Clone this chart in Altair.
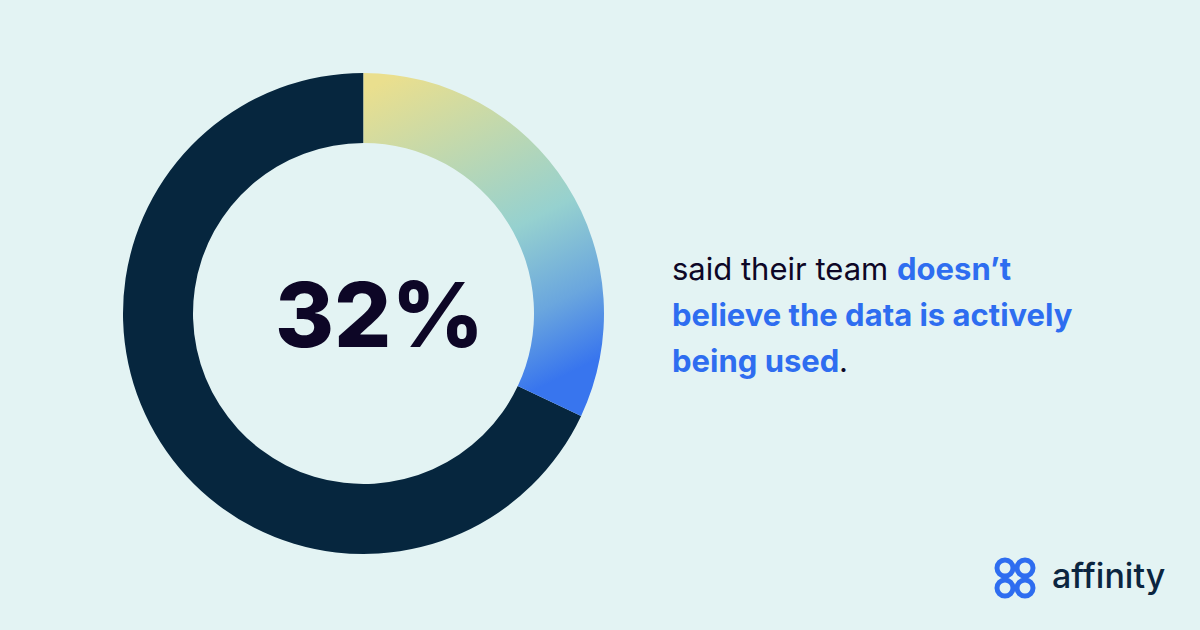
import altair as alt
import pandas as pd

# ---- data ----
segments = ["Doesn't believe data is actively used", "Other"]
shares = [32, 68]
headline = ["32%"]
line1_regular = ["said their team"]
line1_bold = ["doesn’t"]
line2_bold = ["believe the data is actively"]
line3_bold = ["being used"]
line3_end = ["."]
brand = ["affinity"]

df = pd.DataFrame({"segment": segments, "share": shares})
df["end"] = df["share"].cumsum()
df["start"] = df["end"] - df["share"]

W, H = 1200, 630
CX, CY = 363.5, 313.5
R_OUT, R_IN = 240.5, 170.5
BG = "#e3f3f3"
NAVY = "#06263e"
INK = "#0d0626"
BLUE = "#2e6df0"
FONT = "Inter"

theta_scale = alt.Scale(domain=[0, 100], range=[0, 6.283185307179586])

grad = alt.Gradient(
    gradient="linear",
    stops=[
        alt.GradientStop(color="#eadf8e", offset=0),
        alt.GradientStop(color="#96d1cf", offset=0.55),
        alt.GradientStop(color="#6aa6de", offset=0.8),
        alt.GradientStop(color="#3875ee", offset=1),
    ],
    x1=0.15, y1=0, x2=0.5, y2=1,
)

base = alt.Chart(df)
arc_enc = dict(
    theta=alt.Theta("start:Q", scale=theta_scale),
    theta2=alt.Theta2("end:Q"),
    x=alt.value(CX),
    y=alt.value(CY),
)
arc_grad = base.transform_filter(alt.datum.segment == segments[0]).mark_arc(
    color=grad, radius=R_OUT, radius2=R_IN
).encode(**arc_enc)
arc_dark = base.transform_filter(alt.datum.segment == segments[1]).mark_arc(
    color=NAVY, radius=R_OUT, radius2=R_IN
).encode(**arc_enc)


def txt(values, x, y, size, weight, color, align="left", font=FONT):
    return alt.Chart(pd.DataFrame({"t": values})).mark_text(
        font=font, fontSize=size, fontWeight=weight, color=color,
        align=align, baseline="alphabetic",
    ).encode(text="t:N", x=alt.value(x), y=alt.value(y))


big = txt(headline, 379.5, 347, 90, 800, INK, align="center")
l1a = txt(line1_regular, 672, 280, 31, 400, INK)
l1b = txt(line1_bold, 897, 280, 31, 700, BLUE)
l2 = txt(line2_bold, 672, 326, 31, 700, BLUE)
l3a = txt(line3_bold, 672, 372, 31, 700, BLUE)
l3b = txt(line3_end, 839, 372, 31, 400, INK)
logo_text = txt(brand, 1052, 588, 34, 500, "#0b2540")

ring_df = pd.DataFrame({"k": [0]})
rings = []
for rx, ry in [(1005, 568), (1025, 568), (1005, 588), (1025, 588)]:
    rings.append(
        alt.Chart(ring_df).mark_point(
            shape="circle", filled=False, stroke=BLUE, strokeWidth=5, size=256, opacity=1
        ).encode(x=alt.value(rx), y=alt.value(ry))
    )

chart = alt.layer(
    arc_dark, arc_grad, big, l1a, l1b, l2, l3a, l3b, logo_text, *rings
).properties(
    width=W, height=H, background=BG, padding=0,
    autosize=alt.AutoSizeParams(type="none"),
).configure_view(stroke=None)

chart.save("out.html", embed_options={"renderer": "svg", "actions": False})
